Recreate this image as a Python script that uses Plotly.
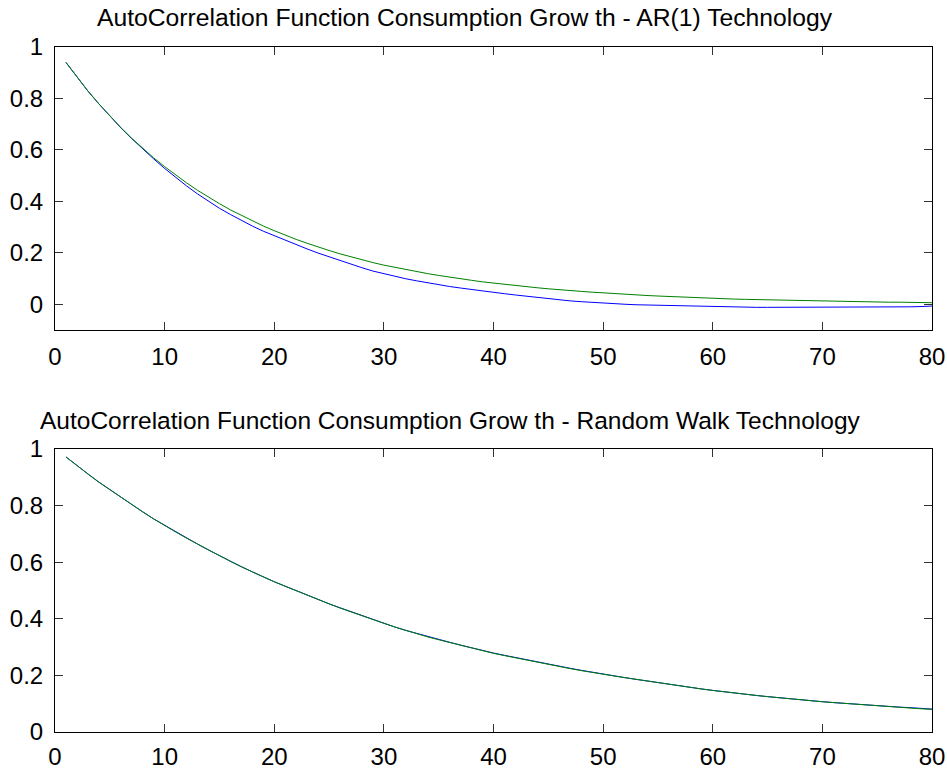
import plotly.graph_objects as go
from plotly.subplots import make_subplots

lags = list(range(1, 81))

ar1_blue = [0.940, 0.883, 0.829, 0.779, 0.731, 0.686, 0.644, 0.604, 0.565, 0.528,
            0.493, 0.460, 0.429, 0.400, 0.373, 0.349, 0.326, 0.304, 0.284, 0.266,
            0.248, 0.231, 0.215, 0.199, 0.184, 0.169, 0.155, 0.142, 0.129, 0.118,
            0.108, 0.099, 0.091, 0.083, 0.076, 0.069, 0.063, 0.057, 0.051, 0.046,
            0.041, 0.036, 0.031, 0.026, 0.021, 0.017, 0.013, 0.010, 0.007, 0.004,
            0.002, 0.000, -0.002, -0.003, -0.004, -0.006, -0.007, -0.008, -0.009, -0.010,
            -0.011, -0.012, -0.012, -0.012, -0.012, -0.012, -0.011, -0.011, -0.010, -0.010,
            -0.010, -0.011, -0.011, -0.011, -0.011, -0.011, -0.011, -0.010, -0.009, -0.007]

ar1_green = [0.940, 0.883, 0.829, 0.779, 0.731, 0.687, 0.645, 0.606, 0.569, 0.535,
             0.502, 0.472, 0.443, 0.416, 0.391, 0.367, 0.345, 0.324, 0.304, 0.286,
             0.268, 0.252, 0.237, 0.222, 0.209, 0.196, 0.184, 0.173, 0.162, 0.152,
             0.143, 0.134, 0.126, 0.119, 0.112, 0.105, 0.099, 0.093, 0.087, 0.082,
             0.077, 0.072, 0.068, 0.064, 0.060, 0.056, 0.053, 0.050, 0.047, 0.044,
             0.041, 0.039, 0.036, 0.034, 0.032, 0.030, 0.028, 0.026, 0.025, 0.023,
             0.022, 0.020, 0.019, 0.018, 0.017, 0.016, 0.015, 0.014, 0.013, 0.012,
             0.011, 0.010, 0.010, 0.009, 0.009, 0.008, 0.008, 0.007, 0.007, 0.006]

rw_blue = [0.972, 0.941, 0.912, 0.883, 0.856, 0.829, 0.803, 0.778, 0.753, 0.730,
           0.707, 0.685, 0.664, 0.643, 0.623, 0.603, 0.584, 0.566, 0.548, 0.531,
           0.515, 0.499, 0.483, 0.468, 0.453, 0.439, 0.425, 0.411, 0.397, 0.384,
           0.371, 0.359, 0.348, 0.337, 0.327, 0.317, 0.307, 0.297, 0.288, 0.279,
           0.271, 0.263, 0.255, 0.247, 0.239, 0.232, 0.225, 0.218, 0.211, 0.205,
           0.198, 0.192, 0.186, 0.180, 0.174, 0.168, 0.162, 0.157, 0.152, 0.147,
           0.142, 0.137, 0.133, 0.129, 0.125, 0.121, 0.117, 0.113, 0.110, 0.107,
           0.104, 0.101, 0.098, 0.096, 0.093, 0.091, 0.088, 0.086, 0.083, 0.081]

rw_green = [0.972, 0.941, 0.912, 0.883, 0.856, 0.829, 0.803, 0.778, 0.753, 0.729,
            0.707, 0.685, 0.664, 0.643, 0.623, 0.603, 0.584, 0.565, 0.548, 0.531,
            0.515, 0.499, 0.483, 0.468, 0.453, 0.438, 0.424, 0.410, 0.397, 0.384,
            0.371, 0.359, 0.348, 0.336, 0.326, 0.316, 0.306, 0.296, 0.287, 0.278,
            0.270, 0.262, 0.254, 0.246, 0.238, 0.231, 0.224, 0.217, 0.210, 0.204,
            0.198, 0.192, 0.186, 0.180, 0.174, 0.168, 0.162, 0.157, 0.152, 0.147,
            0.142, 0.137, 0.133, 0.129, 0.125, 0.121, 0.117, 0.113, 0.110, 0.107,
            0.104, 0.101, 0.098, 0.095, 0.093, 0.090, 0.088, 0.085, 0.082, 0.080]

title_top = "AutoCorrelation Function Consumption Grow th - AR(1) Technology"
title_bottom = "AutoCorrelation Function Consumption Grow th - Random Walk Technology"

FONT = "Liberation Sans, Arial, sans-serif"

fig = make_subplots(rows=2, cols=1)
fig.add_trace(go.Scatter(x=lags, y=ar1_blue, mode="lines", line=dict(color="#0000ff", width=1)), row=1, col=1)
fig.add_trace(go.Scatter(x=lags, y=ar1_green, mode="lines", line=dict(color="#008000", width=1)), row=1, col=1)
fig.add_trace(go.Scatter(x=lags, y=rw_blue, mode="lines", line=dict(color="#0000ff", width=1)), row=2, col=1)
fig.add_trace(go.Scatter(x=lags, y=rw_green, mode="lines", line=dict(color="#008000", width=1)), row=2, col=1)

axis_common = dict(showgrid=False, zeroline=False, showline=True, linecolor="black", linewidth=1,
                   mirror="ticks", ticks="inside", ticklen=8, tickcolor="#333333", automargin=False,
                   tickfont=dict(family=FONT, size=24, color="black"))

fig.update_xaxes(range=[0, 80], dtick=10, tick0=0, **axis_common)
fig.update_xaxes(ticklabelstandoff=5, row=1, col=1)
fig.update_xaxes(ticklabelstandoff=3, row=2, col=1)
fig.update_yaxes(dtick=0.2, tick0=0, ticklabelstandoff=6, **axis_common)
fig.update_yaxes(range=[-0.1, 1], row=1, col=1)
fig.update_yaxes(range=[0, 1], row=2, col=1)

fig.update_layout(
    template="none",
    width=947, height=769,
    margin=dict(l=55, r=15, t=47, b=37, pad=0),
    plot_bgcolor="white", paper_bgcolor="white",
    showlegend=False,
    font=dict(family=FONT, color="black"),
    xaxis=dict(domain=[0, 1]), xaxis2=dict(domain=[0, 1]),
    yaxis=dict(domain=[0.5869, 1.0]), yaxis2=dict(domain=[0.0, 0.4131]),
    annotations=[
        dict(text=title_top, xref="paper", yref="paper", x=(465 - 55) / 877, y=(732 - 17) / 685,
             xanchor="center", yanchor="middle", showarrow=False, font=dict(family=FONT, size=24.7, color="black")),
        dict(text=title_bottom, xref="paper", yref="paper", x=(450 - 55) / 877, y=(732 - 420) / 685,
             xanchor="center", yanchor="middle", showarrow=False, font=dict(family=FONT, size=24.5, color="black")),
    ],
)

# remove the default page margin so the figure sits at the window's top-left corner
fig.write_html("out.html", config={"displayModeBar": False},
               post_script="document.body.style.margin='0';document.body.style.overflow='hidden';")
